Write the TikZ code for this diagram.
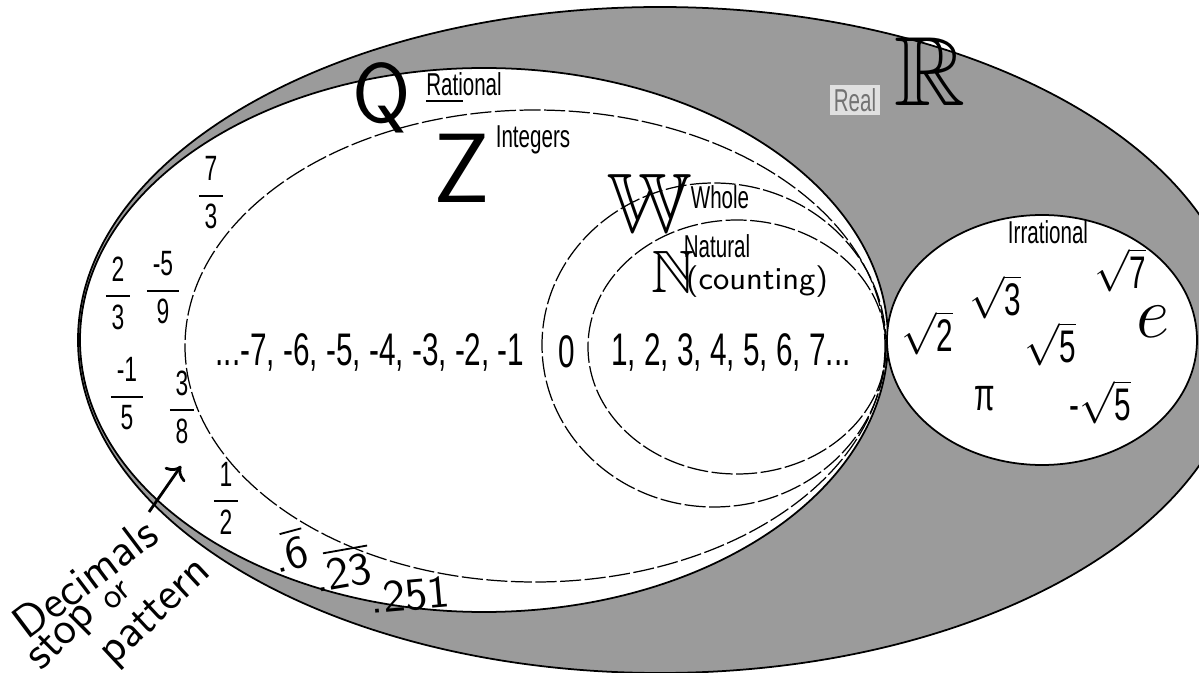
\documentclass[tikz,border=0pt]{standalone}
\usepackage{amsmath,amssymb}
\usepackage{fontspec}
\usetikzlibrary{arrows.meta}
\newfontfamily\narrowsf[FakeStretch=0.65]{Liberation Sans}
\definecolor{realfill}{RGB}{155,155,155}
\newcommand{\vfrac}[2]{$\displaystyle\frac{\mbox{\,#1\,}}{\mbox{\,#2\,}}$}

\tikzset{
  setname/.style={font=\narrowsf\fontsize{9}{10}\selectfont},
  numrow/.style={font=\narrowsf\fontsize{13}{15}\selectfont},
  fracnum/.style={font=\narrowsf\fontsize{10}{12}\selectfont},
  hand/.style={font=\sffamily\fontsize{13}{15}\selectfont},
  subline/.style={line width=0.35pt, dash pattern=on 6pt off 1pt},
}

\begin{document}
\begin{tikzpicture}[x=0.01cm, y=-0.01cm]
  \useasboundingbox (0,0) rectangle (1199,673);
  \clip (0,0) rectangle (1199,673);
  % real, rational, integers, whole, natural, irrational
  \filldraw[fill=realfill, line width=0.5pt] (660,340) ellipse [x radius=582, y radius=333];
  \filldraw[fill=white, line width=0.5pt] (484,340) ellipse [x radius=404, y radius=272];
  \draw[subline] (535,346) ellipse [x radius=350, y radius=236];
  \draw[subline] (714,345) ellipse [x radius=172, y radius=162];
  \draw[subline] (737,347) ellipse [x radius=149, y radius=127];
  \filldraw[fill=white, line width=0.5pt] (1042,340) ellipse [x radius=155, y radius=125];

  % set names
  \node[setname] (rat) at (464,88) {\underline{Rati}onal};
  \node[setname] (int) at (533,140) {Integers};
  \node[setname] (who) at (720,197) {Whole};
  \node[setname] (nat) at (717,246) {Natural};
  \node[setname] (irr) at (1048,232) {Irrational};
  \node[setname, text=black!55, fill=black!12, inner sep=1pt] (rea) at (855,100) {Real};

  % handwritten letters
  \node[font=\sffamily\fontsize{24}{26}\selectfont] (qq) at (382,98) {Q};
  \node[font=\sffamily\fontsize{28}{30}\selectfont] (zz) at (462,168) {Z};
  \node[font=\fontsize{24}{26}\selectfont] (ww) at (650,203) {$\mathbb{W}$};
  \node[font=\fontsize{17}{19}\selectfont] (nn) at (673,272) {$\mathbb{N}$};
  \node[font=\sffamily\fontsize{9}{11}\selectfont] (cnt) at (757,282) {(counting)};
  \node[font=\fontsize{28}{30}\selectfont] (rr) at (930,72) {$\mathbb{R}$};

  % integers, whole, natural
  \node[numrow] (neg) at (370,352) {...-7, -6, -5, -4, -3, -2, -1};
  \node[numrow] (zer) at (567,352) {0};
  \node[numrow] (pos) at (731,352) {1, 2, 3, 4, 5, 6, 7...};

  % fractions
  \node[fracnum] (f73) at (211,193) {\vfrac{7}{3}};
  \node[fracnum] (f23) at (118,293) {\vfrac{2}{3}};
  \node[fracnum] (f59) at (163,288) {\vfrac{-5}{9}};
  \node[fracnum] (f15) at (127,394) {\vfrac{-1}{5}};
  \node[fracnum] (f38) at (182,407) {\vfrac{3}{8}};
  \node[fracnum] (f12) at (226,498) {\vfrac{1}{2}};

  % decimals
  \node[hand, rotate=15] (d6) at (289,550) {.$\overline{\mbox{6}}$};
  \node[hand, rotate=10] (d23) at (342,568) {.$\overline{\mbox{23}}$};
  \node[hand, rotate=5] (d251) at (410,595) {.251};
  \node[hand, rotate=37] (dec) at (85,578) {Decimals};
  \node[hand, rotate=45] (stp) at (63,638) {stop};
  \node[hand, font=\sffamily\fontsize{10}{11}\selectfont, rotate=40] (orr) at (117,596) {or};
  \node[hand, rotate=43] (pat) at (157,614) {pattern};
  \coordinate (arrtail) at (149,512);
  \coordinate (arrtip) at (181,466);
  \draw[->, line width=0.8pt] (arrtail) -- (arrtip);

  % irrationals
  \node[numrow] (r2) at (927,333) {$\sqrt{\mbox{2}}$};
  \node[numrow] (r3) at (995,297) {$\sqrt{\mbox{3}}$};
  \node[numrow] (r5) at (1050,344) {$\sqrt{\mbox{5}}$};
  \node[numrow] (r7) at (1120,270) {$\sqrt{\mbox{7}}$};
  \node[font=\fontsize{21}{23}\selectfont] (ee) at (1153,322) {$e$};
  \node[numrow] (pi) at (985,399) {π};
  \node[numrow] (mr5) at (1100,402) {-$\sqrt{\mbox{5}}$};
\end{tikzpicture}
\end{document}
